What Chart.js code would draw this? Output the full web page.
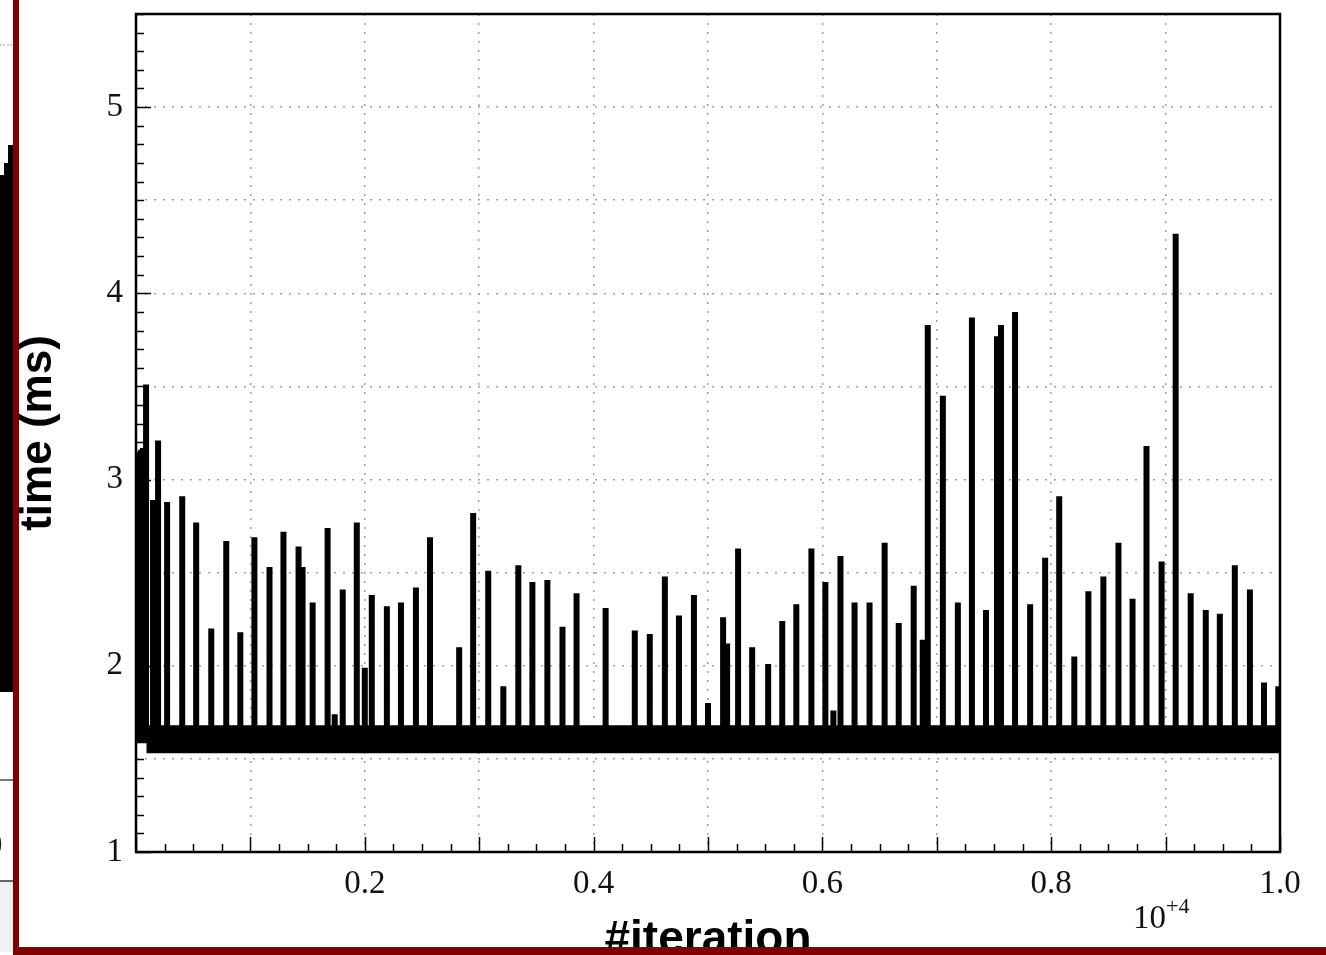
<!DOCTYPE html>
<html>
<head>
<meta charset="utf-8">
<title>time per iteration</title>
<script src="https://cdn.jsdelivr.net/npm/chart.js@4.4.0/dist/chart.umd.min.js"></script>
<style>
  html, body { margin: 0; padding: 0; background: #fff; width: 1326px; height: 955px; overflow: hidden; }
  #wrap { position: relative; width: 1326px; height: 955px; }
  #time-chart { position: absolute; left: 0; top: 0; }
  .side { position: absolute; }
</style>
</head>
<body>
<div id="wrap">
  <canvas id="time-chart" width="1326" height="955"></canvas>
  <!-- bits of the neighbouring figure, cut off by the frame -->
  <div class="side" style="left:0;top:44px;width:12px;height:0;border-top:2px dotted #ccc"></div>
  <div class="side" style="left:0;top:175px;width:4px;height:517px;background:#000"></div>
  <div class="side" style="left:4px;top:163px;width:4px;height:529px;background:#000"></div>
  <div class="side" style="left:8px;top:145px;width:5px;height:547px;background:#000"></div>
  <div class="side" style="left:0;top:779px;width:13px;height:2px;background:#777"></div>
  <div class="side" style="left:-14px;top:826px;font:33px 'Liberation Serif';color:#222">0</div>
  <div class="side" style="left:0;top:880px;width:13px;height:70px;background:#f1f1f1;border-top:2px solid #666"></div>
  <div class="side" style="left:13px;top:0;width:6px;height:955px;background:#7f0000"></div>
  <div class="side" style="left:13px;top:947px;width:1313px;height:8px;background:#7f0000"></div>
</div>
<script>
// spikes: iteration number and peak time (ms)
const spikeIter = [15, 30, 45, 60, 75, 88, 149, 193, 272, 404, 526, 658, 789, 912,
  1035, 1167, 1289, 1421, 1456, 1544, 1675, 1737, 1807, 1930, 2000, 2061, 2193, 2316,
  2447, 2570, 2825, 2947, 3079, 3211, 3342, 3465, 3596, 3728, 3851, 4105, 4360, 4491,
  4623, 4746, 4877, 5000, 5132, 5167, 5263, 5386, 5526, 5649, 5772, 5904, 6026, 6096,
  6158, 6281, 6412, 6544, 6667, 6798, 6877, 6921, 7053, 7184, 7307, 7430, 7526, 7561,
  7684, 7816, 7947, 8070, 8202, 8325, 8456, 8588, 8711, 8833, 8965, 9088, 9219, 9351,
  9474, 9605, 9737, 9860, 9985];
const spikeTime = [3.12, 3.15, 3.16, 3.17, 3.15, 3.51, 2.89, 3.21, 2.88, 2.91, 2.77, 2.20, 2.67, 2.18,
  2.69, 2.53, 2.72, 2.64, 2.53, 2.34, 2.74, 1.74, 2.41, 2.77, 1.99, 2.38, 2.32, 2.34,
  2.42, 2.69, 2.10, 2.82, 2.51, 1.89, 2.54, 2.45, 2.46, 2.21, 2.39, 2.31, 2.19, 2.17,
  2.48, 2.27, 2.38, 1.80, 2.26, 2.12, 2.63, 2.10, 2.01, 2.24, 2.33, 2.63, 2.45, 1.76,
  2.59, 2.34, 2.34, 2.66, 2.23, 2.43, 2.14, 3.83, 3.45, 2.34, 3.87, 2.30, 3.77, 3.83,
  3.90, 2.33, 2.58, 2.91, 2.05, 2.40, 2.48, 2.66, 2.36, 3.18, 2.56, 4.32, 2.39, 2.30,
  2.28, 2.54, 2.41, 1.91, 1.89];

// the dense band of ordinary iterations
const baseIter = [90, 10000];
const baseLow = [1.53, 1.53];
const baseHigh = [1.68, 1.68];
const baseLevel = 1.6;

const xLabelTicks = [2000, 4000, 6000, 8000, 10000];
const yLabelTicks = [1, 2, 3, 4, 5];

const trace = [{ x: 0, y: baseLevel }];
spikeIter.forEach((it, i) => {
  trace.push({ x: it, y: baseLevel }, { x: it, y: spikeTime[i] }, { x: it, y: baseLevel });
});
trace.push({ x: 10000, y: baseLevel });

const frameTicks = {
  id: "frameTicks",
  afterDatasetsDraw(chart) {
    const { ctx, chartArea: a, scales: { x, y } } = chart;
    ctx.save();
    ctx.strokeStyle = "#000";
    ctx.lineWidth = 1.5;
    ctx.beginPath();
    for (let v = 1; v <= 5.5001; v += 0.1) {
      const py = Math.round(y.getPixelForValue(v)) + 0.5;
      const len = Math.abs(v - Math.round(v)) < 0.001 ? 15 : 8;
      ctx.moveTo(a.left, py);
      ctx.lineTo(a.left + len, py);
    }
    for (let v = 0; v <= 10000; v += 250) {
      const px = Math.round(x.getPixelForValue(v)) + 0.5;
      const len = v % 1000 === 0 ? 15 : 8;
      ctx.moveTo(px, a.bottom);
      ctx.lineTo(px, a.bottom - len);
    }
    ctx.stroke();
    ctx.lineWidth = 2.5;
    ctx.strokeRect(a.left, a.top, a.right - a.left, a.bottom - a.top);
    // exponent under the x axis
    ctx.fillStyle = "#111";
    ctx.textBaseline = "alphabetic";
    ctx.textAlign = "left";
    ctx.font = "33px 'Liberation Serif'";
    ctx.fillText("10", 1133, 928);
    ctx.font = "22px 'Liberation Serif'";
    ctx.fillText("+4", 1166, 913);
    ctx.restore();
  },
};

document.addEventListener("DOMContentLoaded", () => {
  const canvas = document.getElementById("time-chart");
  new Chart(canvas, {
    type: "line",
    data: {
      datasets: [
        {
          label: "low",
          data: baseIter.map((it, i) => ({ x: it, y: baseLow[i] })),
          borderWidth: 0,
          pointRadius: 0,
          fill: false,
        },
        {
          label: "high",
          data: baseIter.map((it, i) => ({ x: it, y: baseHigh[i] })),
          borderWidth: 0,
          pointRadius: 0,
          backgroundColor: "#000",
          fill: "-1",
        },
        {
          label: "time",
          data: trace,
          borderColor: "#000",
          borderWidth: 6,
          pointRadius: 0,
          tension: 0,
          fill: false,
        },
      ],
    },
    options: {
      responsive: false,
      animation: false,
      devicePixelRatio: 1,
      layout: { padding: { left: 0, right: 46, top: 14, bottom: 0 } },
      plugins: { legend: { display: false }, tooltip: { enabled: false } },
      scales: {
        x: {
          type: "linear",
          min: 0,
          max: 10000,
          afterFit: (s) => {
            s.height = 103;
            s.paddingLeft = 0;
            s.paddingRight = 0;
          },
          grid: { color: "#a0a0a0", lineWidth: 1.5, drawTicks: false },
          border: { display: false, dash: [2, 7] },
          ticks: {
            stepSize: 1000,
            autoSkip: false,
            maxRotation: 0,
            padding: 19,
            color: "#111",
            font: { family: "Liberation Serif", size: 33, lineHeight: 0.8 },
            callback: (v) => (xLabelTicks.includes(v) ? (v / 10000).toFixed(1) : ""),
          },
          title: {
            display: true,
            text: "#iteration",
            color: "#000",
            font: { family: "Liberation Sans", size: 46, weight: "bold", lineHeight: 1 },
            padding: { top: 0, bottom: -8 },
          },
        },
        y: {
          min: 1,
          max: 5.5,
          afterFit: (s) => {
            s.width = 136;
            s.paddingTop = 0;
            s.paddingBottom = 0;
          },
          grid: { color: "#a0a0a0", lineWidth: 1.5, drawTicks: false },
          border: { display: false, dash: [2, 7] },
          ticks: {
            stepSize: 0.5,
            padding: 13,
            color: "#111",
            font: { family: "Liberation Serif", size: 33, lineHeight: 0.8 },
            callback: (v) => (yLabelTicks.includes(v) ? String(v) : ""),
          },
          title: {
            display: true,
            text: "time (ms)",
            color: "#000",
            font: { family: "Liberation Sans", size: 44, weight: "bold", lineHeight: 1.2 },
            padding: { top: 12, bottom: 0 },
          },
        },
      },
    },
    plugins: [frameTicks],
  });
});
</script>
</body>
</html>
